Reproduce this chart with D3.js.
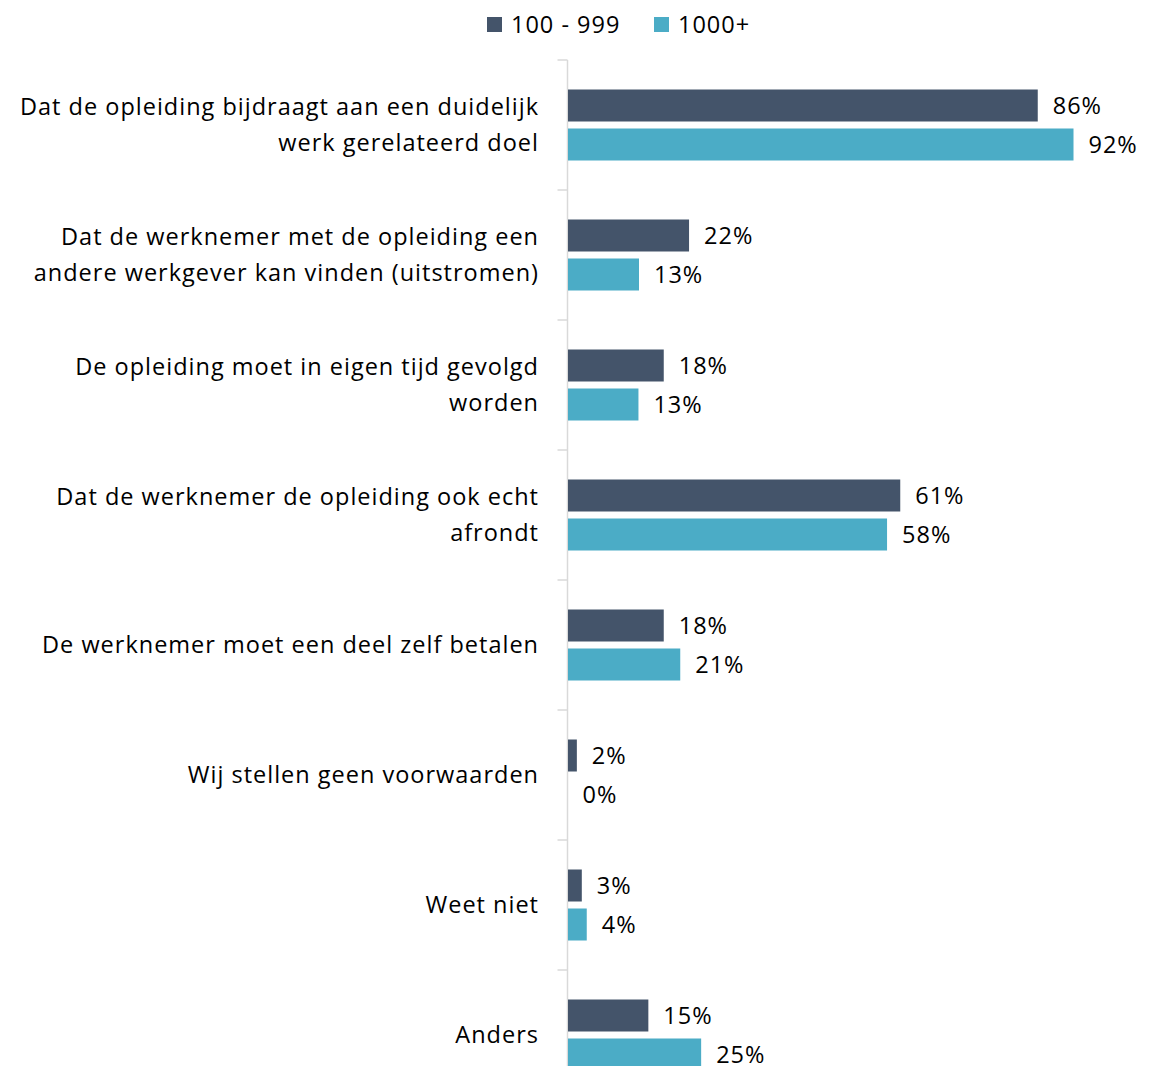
<!DOCTYPE html>
<html>
<head>
<meta charset="utf-8">
<script src="https://cdn.jsdelivr.net/npm/d3@7"></script>
<style>
  body { margin: 0; background: #fff; }
  svg { display: block; }
  text { font-family: "Open Sans", "Noto Sans", sans-serif; fill: #000; letter-spacing: 1px; }
</style>
</head>
<body>
<svg id="chart" width="1169" height="1066"></svg>
<script>
const categories = [
  ["Dat de opleiding bijdraagt aan een duidelijk", "werk gerelateerd doel"],
  ["Dat de werknemer met de opleiding een", "andere werkgever kan vinden (uitstromen)"],
  ["De opleiding moet in eigen tijd gevolgd", "worden"],
  ["Dat de werknemer de opleiding ook echt", "afrondt"],
  ["De werknemer moet een deel zelf betalen"],
  ["Wij stellen geen voorwaarden"],
  ["Weet niet"],
  ["Anders"]
];
const seriesNames = ["100 - 999", "1000+"];
const series100 = [85.5, 22.1, 17.5, 60.5, 17.5, 1.7, 2.6, 14.7];
const series1000 = [92.0, 13.0, 12.9, 58.1, 20.5, 0.0, 3.5, 24.3];
const labels100 = ["86%", "22%", "18%", "61%", "18%", "2%", "3%", "15%"];
const labels1000 = ["92%", "13%", "13%", "58%", "21%", "0%", "4%", "25%"];
const colors = ["#44546a", "#4bacc6"];

const svg = d3.select("#chart");
const x0 = 567.5;
const x = d3.scaleLinear().domain([0, 100]).range([x0, x0 + 550]);
const y = d3.scaleBand().domain(d3.range(categories.length)).range([60, 1100]).padding(0);

const fs = 23.5;

// axis
const axis = svg.append("g");
axis.append("line").attr("x1", x0).attr("x2", x0).attr("y1", 60).attr("y2", 1100)
  .attr("stroke", "#d9d9d9").attr("stroke-width", 1.5);
axis.selectAll("line.tick").data(d3.range(categories.length + 1)).join("line")
  .attr("class", "tick")
  .attr("x1", x0 - 10).attr("x2", x0)
  .attr("y1", d => 60 + d * y.step()).attr("y2", d => 60 + d * y.step())
  .attr("stroke", "#d9d9d9").attr("stroke-width", 1.5);

const barH = 32, gap = 7;
const groups = svg.append("g").selectAll("g").data(categories).join("g")
  .attr("transform", (d, i) => `translate(0,${y(i) + y.bandwidth() / 2})`);

const sets = [[series100, labels100], [series1000, labels1000]];
sets.forEach(([vals, labs], s) => {
  const top = s === 0 ? -(barH + gap / 2) : gap / 2;
  groups.append("rect")
    .attr("x", x(0) + 0.5)
    .attr("y", top)
    .attr("width", (d, i) => Math.max(0, x(vals[i]) - x(0) - 0.5))
    .attr("height", barH)
    .attr("fill", colors[s]);
  groups.append("text")
    .attr("x", (d, i) => x(vals[i]) + 15)
    .attr("y", top + barH / 2)
    .attr("dy", "0.35em")
    .attr("font-size", fs)
    .text((d, i) => labs[i]);
});

// category labels
groups.each(function(lines) {
  const g = d3.select(this);
  const lh = 36;
  const start = -(lines.length - 1) * lh / 2;
  lines.forEach((t, k) => {
    g.append("text")
      .attr("x", 539)
      .attr("y", start + k * lh)
      .attr("dy", "0.35em")
      .attr("text-anchor", "end")
      .attr("font-size", fs)
      .text(t);
  });
});

// legend
const legend = svg.append("g");
const legendX = [487, 654];
seriesNames.forEach((n, i) => {
  legend.append("rect").attr("x", legendX[i]).attr("y", 17).attr("width", 15).attr("height", 15).attr("fill", colors[i]);
  legend.append("text").attr("x", legendX[i] + 24).attr("y", 25).attr("dy", "0.35em").attr("font-size", fs).text(n);
});
</script>
</body>
</html>
